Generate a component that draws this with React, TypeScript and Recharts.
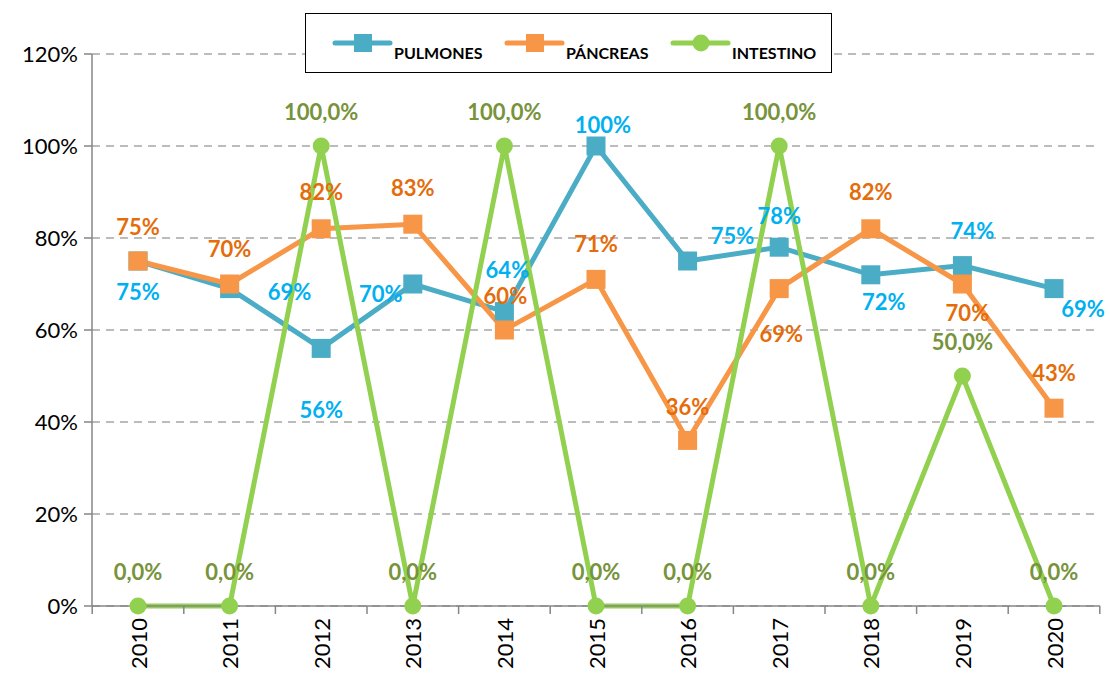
import { LineChart, Line, XAxis, YAxis, CartesianGrid, LabelList, Legend } from "recharts";

const years = ["2010", "2011", "2012", "2013", "2014", "2015", "2016", "2017", "2018", "2019", "2020"];
const pulmones = [75, 69, 56, 70, 64, 100, 75, 78, 72, 74, 69];
const pancreas = [75, 70, 82, 83, 60, 71, 36, 69, 82, 70, 43];
const intestino = [0, 0, 100, 0, 100, 0, 0, 100, 0, 50, 0];
const yTicks = [0, 20, 40, 60, 80, 100, 120];

// label offsets (dx, dy) from the point, as Excel placed them
const pulmonesLabelPos = [[0, 30], [60, 3], [0, 61], [-32, 9], [3, -42], [7, -22], [45, -26], [0, -32], [13, 27], [10, -35], [29, 20]];
const pancreasLabelPos = [[0, -35], [0, -36], [0, -37], [0, -37], [1, -35], [0, -36], [0, -34], [2, 45], [0, -37], [5, 28], [0, -36]];

const data = years.map((year, i) => ({
  year,
  pulmones: pulmones[i],
  pancreas: pancreas[i],
  intestino: intestino[i],
}));

const W = 1110;
const H = 677;
const PLOT_LEFT = 92;
const PLOT_RIGHT = 1100;
const PAD = 46;
const STEP = (PLOT_RIGHT - PLOT_LEFT - 2 * PAD) / (years.length - 1);
const FONT = "Lato, 'Open Sans', sans-serif";
const AXIS = "#868686";

const C_PUL = "#4BACC6";
const C_PAN = "#F79646";
const C_INT = "#92D050";

const squareDot = (color: string) => (props: any) => {
  const { cx, cy, index } = props;
  if (cx == null || cy == null) return <g key={index} />;
  return <rect key={index} x={cx - 9.5} y={cy - 9.5} width={19} height={19} fill={color} />;
};

const circleDot = (color: string) => (props: any) => {
  const { cx, cy, index } = props;
  if (cx == null || cy == null) return <g key={index} />;
  return <circle key={index} cx={cx} cy={cy} r={8.5} fill={color} />;
};

const makeLabel = (color: string, pos: number[][] | null, fmt: (v: number) => string) => (props: any) => {
  const { x, y, value, index } = props;
  const [dx, dy] = pos ? pos[index] : [0, -35];
  return (
    <text
      x={x + dx}
      y={y + dy}
      fill={color}
      fontFamily={FONT}
      fontWeight={700}
      fontSize={22}
      textAnchor="middle"
      dominantBaseline="central"
    >
      {fmt(value)}
    </text>
  );
};

const YearTick = (props: any) => {
  const { x, y, payload, index } = props;
  return (
    <g>
      <line x1={x - STEP / 2} y1={y} x2={x - STEP / 2} y2={y + 8} stroke={AXIS} strokeWidth={1.5} />
      {index === years.length - 1 && (
        <line x1={x + STEP / 2} y1={y} x2={x + STEP / 2} y2={y + 8} stroke={AXIS} strokeWidth={1.5} />
      )}
      <text
        x={x}
        y={y + 12}
        transform={`rotate(-90, ${x}, ${y + 12})`}
        textAnchor="end"
        dominantBaseline="central"
        fontFamily={FONT}
        fontSize={22}
        fill="#000"
      >
        {payload.value}
      </text>
    </g>
  );
};

const legendItems = [
  { name: "PULMONES", color: C_PUL, shape: "square", x: 29 },
  { name: "PÁNCREAS", color: C_PAN, shape: "square", x: 201 },
  { name: "INTESTINO", color: C_INT, shape: "circle", x: 367 },
];

const LegendBox = () => (
  <div
    style={{
      width: 527,
      height: 60,
      boxSizing: "border-box",
      border: "1.5px solid #000",
      background: "#fff",
    }}
  >
    <svg width={524} height={57}>
      {legendItems.map((it) => (
        <g key={it.name}>
          <line x1={it.x} y1={29} x2={it.x + 55} y2={29} stroke={it.color} strokeWidth={5} strokeLinecap="round" />
          {it.shape === "square" ? (
            <rect x={it.x + 19} y={20} width={18} height={18} fill={it.color} />
          ) : (
            <circle cx={it.x + 28} cy={29} r={8.5} fill={it.color} />
          )}
          <text x={it.x + 59} y={45} fontFamily={FONT} fontWeight={700} fontSize={16} fill="#000">
            {it.name}
          </text>
        </g>
      ))}
    </svg>
  </div>
);

export default function App() {
  return (
    <div style={{ position: "absolute", left: 0, top: 0, width: W, height: H, background: "#fff" }}>
      <LineChart width={W} height={H} data={data} margin={{ top: 54, right: W - PLOT_RIGHT, bottom: 0, left: 0 }}>
        <CartesianGrid vertical={false} stroke="#A6A6A6" strokeWidth={1.5} strokeDasharray="8 6" />
        <XAxis
          dataKey="year"
          height={H - 606}
          padding={{ left: PAD, right: PAD }}
          stroke={AXIS}
          strokeWidth={1.5}
          tickLine={false}
          tickSize={0}
          tickMargin={0}
          interval={0}
          tick={<YearTick />}
        />
        <YAxis
          width={PLOT_LEFT}
          domain={[0, 120]}
          ticks={yTicks}
          stroke={AXIS}
          strokeWidth={1.5}
          tickSize={8}
          tickMargin={6}
          tickFormatter={(v: number) => `${v}%`}
          tick={{ fill: "#000", fontFamily: FONT, fontSize: 22 }}
        />
        <Legend
          verticalAlign="middle"
          align="center"
          layout="horizontal"
          wrapperStyle={{ position: "absolute", left: 305, top: 13, width: 527, height: 60 }}
          content={() => <LegendBox />}
        />
        <Line dataKey="pulmones" stroke={C_PUL} strokeWidth={5} dot={squareDot(C_PUL)} activeDot={false} isAnimationActive={false} />
        <Line dataKey="pancreas" stroke={C_PAN} strokeWidth={5} dot={squareDot(C_PAN)} activeDot={false} isAnimationActive={false} />
        <Line dataKey="intestino" stroke={C_INT} strokeWidth={5} dot={circleDot(C_INT)} activeDot={false} isAnimationActive={false} />
        {/* label layers drawn last so the texts sit on top of all lines */}
        <Line dataKey="pulmones" stroke="none" dot={false} activeDot={false} legendType="none" isAnimationActive={false}>
          <LabelList dataKey="pulmones" content={makeLabel("#00B0F0", pulmonesLabelPos, (v) => `${v}%`)} />
        </Line>
        <Line dataKey="pancreas" stroke="none" dot={false} activeDot={false} legendType="none" isAnimationActive={false}>
          <LabelList dataKey="pancreas" content={makeLabel("#E46C0A", pancreasLabelPos, (v) => `${v}%`)} />
        </Line>
        <Line dataKey="intestino" stroke="none" dot={false} activeDot={false} legendType="none" isAnimationActive={false}>
          <LabelList dataKey="intestino" content={makeLabel("#77933C", null, (v) => `${v.toFixed(1).replace(".", ",")}%`)} />
        </Line>
      </LineChart>
    </div>
  );
}
